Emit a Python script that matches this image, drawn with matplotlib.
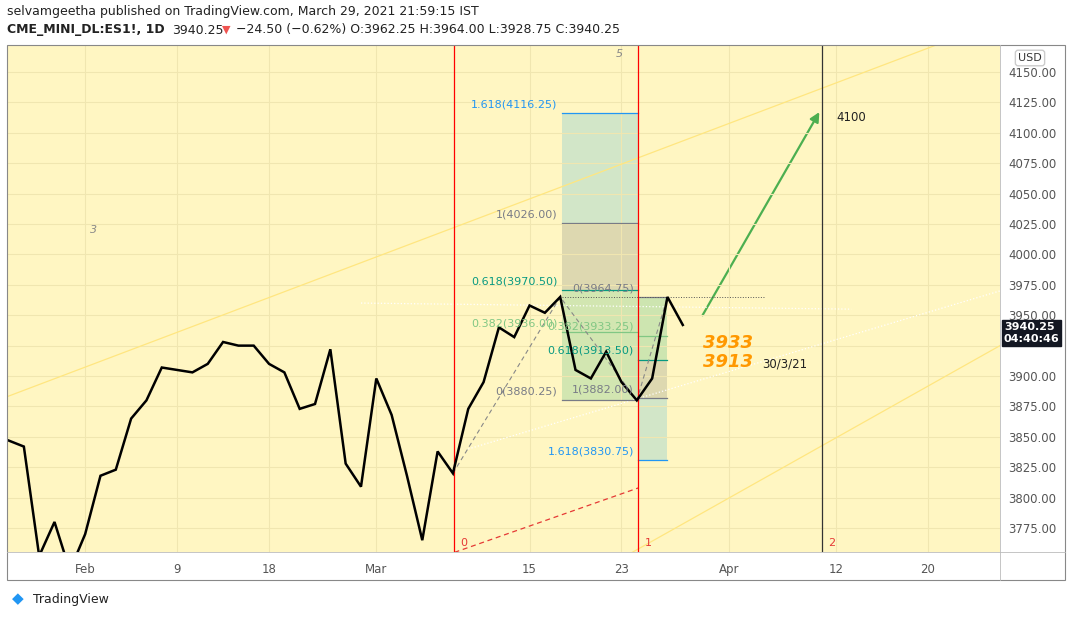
import matplotlib
matplotlib.use("Agg")
import matplotlib.pyplot as plt
from matplotlib.patches import Rectangle, FancyArrowPatch

# Data: bar index (0 = Feb 1) and close prices
bars = list(range(-5, 40))
prices = [3847, 3842, 3752, 3780, 3740, 3770, 3818, 3823, 3865, 3880, 3907, 3905, 3903,
          3910, 3928, 3925, 3925, 3910, 3903, 3873, 3877, 3922, 3828, 3809, 3898, 3868,
          3818, 3765, 3838, 3820, 3873, 3895, 3940, 3932, 3958, 3952, 3965, 3905, 3898,
          3920, 3895, 3880, 3898, 3965, 3942]
tick_pos = [0, 6, 12, 19, 29, 35, 42, 49, 55]
tick_labels = ["Feb", "9", "18", "Mar", "15", "23", "Apr", "12", "20"]
yticks = [3775, 3800, 3825, 3850, 3875, 3900, 3925, 3950, 3975, 4000, 4025, 4050, 4075, 4100, 4125, 4150]
fib_left = [("1.618(4116.25)", 4116.25, "#2196f3"), ("1(4026.00)", 4026.0, "#787b86"),
            ("0.618(3970.50)", 3970.5, "#089981"), ("0.382(3936.00)", 3936.0, "#81c784"),
            ("0(3880.25)", 3880.25, "#787b86")]
fib_right = [("0(3964.75)", 3964.75, "#787b86"), ("0.382(3933.25)", 3933.25, "#81c784"),
             ("0.618(3913.50)", 3913.5, "#089981"), ("1(3882.00)", 3882.0, "#787b86"),
             ("1.618(3830.75)", 3830.75, "#2196f3")]

W, H = 1073, 617
fig = plt.figure(figsize=(W/100, H/100), dpi=100)
fig.patch.set_facecolor("white")
def fx(px): return px / W
def fy(py): return 1 - py / H
ax = fig.add_axes([fx(7), fy(552), fx(1000) - fx(7), fy(45) - fy(552)])
ax.set_facecolor("#fff6c2")
xmin, xmax = -5.1, 59.7
ymin, ymax = 3755.3, 4172.2
ax.set_xlim(xmin, xmax); ax.set_ylim(ymin, ymax)
for s in ax.spines.values(): s.set_visible(False)
ax.yaxis.tick_right()
ax.set_yticks(yticks)
# 3925 label is hidden behind the last-price tag in the reference
ax.set_yticklabels(["" if v == 3925 else f"{v:.2f}" for v in yticks], fontsize=8.5, color="#555")
ax.set_xticks(tick_pos)
ax.set_xticklabels(tick_labels, fontsize=8.5, color="#555")
ax.tick_params(axis="both", length=0)
ax.tick_params(axis="y", pad=6)
ax.tick_params(axis="x", pad=8)
ax.grid(True, color="#f0e6b0", lw=0.8)

# channel lines
ax.plot([-5.1, 55.5], [3883, 4172], color="#ffe680", lw=0.9)
ax.plot([35.7, 59.7], [3755, 3925], color="#ffe680", lw=0.9)
ax.plot([25, 59.7], [3840, 3970], color="white", lw=0.9, ls=":")
ax.plot([18, 50], [3960, 3955], color="white", lw=0.9, ls=":")

# fib boxes
L, M, R = 31.1, 36.1, 38.0
ax.add_patch(Rectangle((L, 3880.25), M - L, 3970.5 - 3880.25, color="#cde5b0", alpha=0.9, lw=0))
ax.add_patch(Rectangle((L, 3970.5), M - L, 4026 - 3970.5, color="#ddd8b0", lw=0))
ax.add_patch(Rectangle((L, 4026), M - L, 4116.25 - 4026, color="#d2e6c8", lw=0))
ax.add_patch(Rectangle((M, 3913.5), R - M, 3964.75 - 3913.5, color="#cde5b0", lw=0))
ax.add_patch(Rectangle((M, 3882), R - M, 3913.5 - 3882, color="#ddd8b0", lw=0))
ax.add_patch(Rectangle((M, 3830.75), R - M, 3882 - 3830.75, color="#d2e6c8", lw=0))
for lab, v, c in fib_left:
    ax.plot([L, M], [v, v], color=c, lw=0.9)
    ax.text(L - 0.3, v + 3, lab, ha="right", va="bottom", fontsize=8, color=c)
for lab, v, c in fib_right:
    ax.plot([M, R], [v, v], color=c, lw=0.9)
    ax.text(M - 0.3, v + 3, lab, ha="right", va="bottom", fontsize=8, color=c)
ax.plot([31.1, 44.3], [3965, 3965], color="#555", lw=0.7, ls=":")

# dashed pattern lines
ax.plot([24, 31, 36, 38], [3820, 3965, 3880, 3965], color="#888", lw=0.8, ls=(0, (4, 3)))
ax.plot([24.1, 36.1], [3755, 3808], color="#e53935", lw=0.9, ls=(0, (4, 3)))

# verticals
for xv, lab, c in [(24.1, "0", "#ff0000"), (36.1, "1", "#ff0000"), (48.1, "2", "#333")]:
    ax.axvline(xv, color=c, lw=0.9)
    ax.text(xv + 0.4, 3760, lab, fontsize=8, color="#e53935")

# price
ax.plot(bars, prices, color="black", lw=1.8, solid_joinstyle="miter")

# arrow
ax.add_patch(FancyArrowPatch((40.2, 3948), (48.0, 4119), arrowstyle="-|>", mutation_scale=14,
                             color="#4caf50", lw=1.6))
ax.text(49, 4110, "4100", fontsize=8.5, color="#222")
ax.text(44.2, 3907, "30/3/21", fontsize=8.5, color="#222")
ax.text(40.3, 3927, "3933", fontsize=13, color="#ff9800", fontweight="bold", style="italic", va="center")
ax.text(40.3, 3911.5, "3913", fontsize=13, color="#ff9800", fontweight="bold", style="italic", va="center")
ax.text(0.3, 4018, "3", fontsize=8, color="#888", style="italic")
ax.text(34.6, 4162, "5", fontsize=8, color="#888", style="italic")

# price tag
ax.text(1.004, (3935.5 - ymin) / (ymax - ymin), "3940.25\n04:40:46", transform=ax.transAxes,
        fontsize=8, color="white", fontweight="bold", va="center", ha="left", linespacing=1.3,
        bbox=dict(boxstyle="square,pad=0.15", fc="#131722", ec="#131722"))
fig.text(fx(1030), fy(58), "USD", fontsize=8, color="#333", ha="center", va="center",
         bbox=dict(boxstyle="round,pad=0.25", fc="white", ec="#ccc"))

# frame
fig.add_artist(Rectangle((fx(7), fy(580)), fx(1065) - fx(7), fy(45) - fy(580),
                         transform=fig.transFigure, fill=False, ec="#888", lw=0.8))
fig.add_artist(plt.Line2D([fx(7), fx(1065)], [fy(552), fy(552)], transform=fig.transFigure, color="#bbb", lw=0.6))
fig.add_artist(plt.Line2D([fx(1000), fx(1000)], [fy(45), fy(580)], transform=fig.transFigure, color="#bbb", lw=0.6))

# header
fig.text(fx(7), fy(12), "selvamgeetha published on TradingView.com, March 29, 2021 21:59:15 IST",
         fontsize=9, color="#222", va="center")
fig.text(fx(7), fy(30), "CME_MINI_DL:ES1!, 1D", fontsize=9, color="#222", va="center", fontweight="bold")
fig.text(fx(172), fy(30), "3940.25", fontsize=9, color="#222", va="center")
fig.text(fx(222), fy(30), "\u25bc", fontsize=8, color="#ef5350", va="center")
fig.text(fx(236), fy(30), "\u221224.50 (\u22120.62%) O:3962.25 H:3964.00 L:3928.75 C:3940.25",
         fontsize=9, color="#222", va="center")
fig.text(fx(33), fy(599), "TradingView", fontsize=9, color="#222", va="center")
fig.text(fx(18), fy(599), "\u25c6", fontsize=11, color="#2196f3", va="center", ha="center")
fig.savefig("out.png", dpi=100)
